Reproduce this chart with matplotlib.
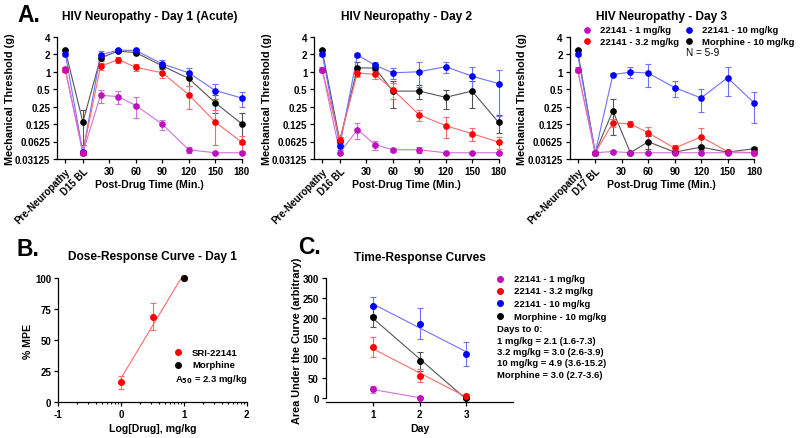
import numpy as np
import matplotlib
matplotlib.use('Agg')
import matplotlib.pyplot as plt
from matplotlib.ticker import FixedLocator, NullLocator

plt.rcParams['font.family'] = ['Liberation Sans', 'DejaVu Sans']
plt.rcParams['font.weight'] = 'bold'
plt.rcParams['axes.unicode_minus'] = False

# ---- panel A data (von Frey threshold, g) ----
time_pts = [-20, 0, 20, 40, 60, 90, 120, 150, 180]
a_ticks = [-20, 0, 30, 60, 90, 120, 150, 180]
y_ticks = [0.03125, 0.0625, 0.125, 0.25, 0.5, 1, 2, 4]
y_ticklabels = ['0.03125', '0.0625', '0.125', '0.25', '0.5', '1', '2', '4']
bl_labels = ['D15 BL', 'D16 BL', 'D17 BL']
a_titles = ['HIV Neuropathy - Day 1 (Acute)', 'HIV Neuropathy - Day 2', 'HIV Neuropathy - Day 3']

d1_mag = [1.10, 0.040, 0.39, 0.37, 0.26, 0.124, 0.045, 0.040, 0.040]
d1_mag_err = [0.10, 0.003, 0.10, 0.09, 0.10, 0.025, 0.006, 0.002, 0.002]
d1_red = [1.08, 0.040, 1.23, 1.60, 1.18, 0.95, 0.40, 0.135, 0.061]
d1_red_err = [0.10, 0.003, 0.15, 0.20, 0.15, 0.18, 0.17, 0.08, 0.018]
d1_blu = [2.04, 0.041, 1.93, 2.33, 2.30, 1.35, 0.95, 0.47, 0.35]
d1_blu_err = [0.20, 0.003, 0.30, 0.10, 0.15, 0.25, 0.20, 0.14, 0.10]
d1_blk = [2.33, 0.135, 1.71, 2.25, 2.11, 1.25, 0.76, 0.29, 0.126]
d1_blk_err = [0.10, 0.08, 0.20, 0.10, 0.10, 0.15, 0.20, 0.10, 0.07]

d2_mag = [1.08, 0.040, 0.10, 0.055, 0.045, 0.045, 0.040, 0.040, 0.040]
d2_mag_err = [0.10, 0.002, 0.03, 0.01, 0.003, 0.005, 0.002, 0.002, 0.002]
d2_red = [1.08, 0.066, 0.95, 0.89, 0.49, 0.18, 0.117, 0.085, 0.061]
d2_red_err = [0.10, 0.01, 0.15, 0.15, 0.15, 0.04, 0.045, 0.02, 0.015]
d2_blu = [2.04, 0.052, 1.93, 1.28, 0.95, 0.99, 1.21, 0.83, 0.62]
d2_blu_err = [0.20, 0.008, 0.15, 0.20, 0.20, 0.45, 0.25, 0.35, 0.45]
d2_blk = [2.33, 0.065, 1.15, 1.15, 0.46, 0.46, 0.36, 0.46, 0.133]
d2_blk_err = [0.10, 0.01, 0.30, 0.20, 0.22, 0.13, 0.13, 0.22, 0.045]

d3_mag = [1.08, 0.040, 0.042, 0.040, 0.040, 0.040, 0.040, 0.040, 0.040]
d3_mag_err = [0.10, 0.002, 0.002, 0.002, 0.002, 0.002, 0.002, 0.002, 0.002]
d3_red = [1.08, 0.040, 0.13, 0.126, 0.088, 0.048, 0.075, 0.042, 0.040]
d3_red_err = [0.10, 0.002, 0.02, 0.015, 0.025, 0.007, 0.03, 0.002, 0.002]
d3_blu = [2.04, 0.040, 0.88, 0.98, 0.94, 0.53, 0.35, 0.78, 0.29]
d3_blu_err = [0.20, 0.002, 0.05, 0.22, 0.40, 0.17, 0.15, 0.40, 0.16]
d3_blk = [2.33, 0.040, 0.21, 0.040, 0.062, 0.041, 0.050, 0.041, 0.047]
d3_blk_err = [0.10, 0.002, 0.13, 0.002, 0.015, 0.002, 0.005, 0.002, 0.004]

# ---- panel B data ----
b_dose = [1, 3.2, 10]          # mg/kg, SRI-22141
b_mpe = [16, 69, 100]
b_mpe_err = [5, 11, 0]
b_morph_dose = [10]
b_morph_mpe = [100]

# ---- panel C data ----
c_days = [1, 2, 3]
c_mag = [22.5, 2]
c_mag_err = [8, 1]
c_red = [128, 57, 7]
c_red_err = [25, 16, 3]
c_blu = [231, 187, 111]
c_blu_err = [22, 38, 30]
c_blk = [204, 93, 1]
c_blk_err = [25, 24, 2]
c_days_text = ['Days to 0:', '1 mg/kg = 2.1 (1.6-7.3)', '3.2 mg/kg = 3.0 (2.6-3.9)',
               '10 mg/kg = 4.9 (3.6-15.2)', 'Morphine = 3.0 (2.7-3.6)']

series_names = ['22141 - 1 mg/kg', '22141 - 3.2 mg/kg', '22141 - 10 mg/kg', 'Morphine - 10 mg/kg']
mk_col = {'mag': '#c010c0', 'red': '#ff0000', 'blu': '#0000ff', 'blk': '#000000'}
ln_col = {'mag': '#d070d8', 'red': '#ff6a6a', 'blu': '#7070ff', 'blk': '#555555'}

W, H = 800, 439
TITLE_FS = 8.6
LABEL_FS = 7.6
LEG_FS = 6.8
fig = plt.figure(figsize=(8, 4.39), dpi=100)


def px(l, t, r, b):
    return [l / W, 1 - b / H, (r - l) / W, (b - t) / H]


def style(ax):
    for s in ['top', 'right']:
        ax.spines[s].set_visible(False)
    for s in ['left', 'bottom']:
        ax.spines[s].set_linewidth(0.9)
    ax.tick_params(width=0.9, length=3, labelsize=7, pad=2)
    for lab in ax.get_xticklabels() + ax.get_yticklabels():
        lab.set_fontweight('bold')


def labels(ax, box, xlab, ylab, title, xlab_y, ylab_x, title_y, ylab_fs=LABEL_FS):
    l, t, r, b = box
    w, h = r - l, b - t
    ax.set_xlabel(xlab, fontsize=LABEL_FS, fontweight='bold')
    ax.xaxis.set_label_coords(0.5, -(xlab_y - b) / h)
    ax.xaxis.label.set_va('center')
    ax.set_ylabel(ylab, fontsize=ylab_fs, fontweight='bold')
    ax.yaxis.set_label_coords(-(l - ylab_x) / w, 0.5)
    ax.yaxis.label.set_va('center')
    ax.text(0.5, 1 + (t - title_y) / h, title, transform=ax.transAxes, ha='center',
            va='center', fontsize=TITLE_FS, fontweight='bold')


def series(ax, x, y, e, key, ms=3.8):
    ax.errorbar(x, y, yerr=e, color=ln_col[key], lw=0.8, elinewidth=0.8,
                capsize=2, capthick=0.8, zorder=2, clip_on=False)
    ax.plot(x, y, 'o', color=mk_col[key], ms=ms, zorder=3, clip_on=False)


a_data = [
    [(d1_blk, d1_blk_err, 'blk'), (d1_blu, d1_blu_err, 'blu'), (d1_red, d1_red_err, 'red'), (d1_mag, d1_mag_err, 'mag')],
    [(d2_blk, d2_blk_err, 'blk'), (d2_blu, d2_blu_err, 'blu'), (d2_red, d2_red_err, 'red'), (d2_mag, d2_mag_err, 'mag')],
    [(d3_blk, d3_blk_err, 'blk'), (d3_blu, d3_blu_err, 'blu'), (d3_red, d3_red_err, 'red'), (d3_mag, d3_mag_err, 'mag')],
]
a_lefts = [57.3, 314.2, 569.6]
for i, left in enumerate(a_lefts):
    box = (left, 37.5, left + 184.4, 160)
    ax = fig.add_axes(px(*box))
    for y, e, key in a_data[i]:
        series(ax, time_pts, y, e, key)
    ax.set_yscale('log', base=2)
    ax.set_ylim(0.03125, 4)
    ax.set_xlim(-29, 180)
    ax.yaxis.set_major_locator(FixedLocator(y_ticks))
    ax.yaxis.set_minor_locator(NullLocator())
    ax.set_yticklabels(y_ticklabels)
    ax.set_xticks(a_ticks)
    ax.set_xticklabels(['Pre-Neuropathy', bl_labels[i], '30', '60', '90', '120', '150', '180'])
    style(ax)
    for lab in ax.get_xticklabels()[:2]:
        lab.set_rotation(45)
        lab.set_ha('right')
        lab.set_rotation_mode('anchor')
    labels(ax, box, 'Post-Drug Time (Min.)', 'Mechanical Threshold (g)', a_titles[i],
           184.5, left - 47.3, 16.5, ylab_fs=7.8)

# ---- panel B ----
box_b = (58.3, 279, 246.7, 403.3)
axb = fig.add_axes(px(*box_b))
xb = np.log10(b_dose)
slope, icpt = np.polyfit(xb, b_mpe, 1)
x_end = (100 - icpt) / slope
axb.plot([0, x_end], [icpt, icpt + slope * x_end], color=ln_col['red'], lw=0.8, zorder=1)
axb.errorbar(xb, b_mpe, yerr=b_mpe_err, fmt='none', ecolor=ln_col['red'], elinewidth=0.8,
             capsize=2, capthick=0.8, zorder=2)
axb.plot(xb, b_mpe, 'o', color=mk_col['red'], ms=4, zorder=3, clip_on=False)
axb.plot(np.log10(b_morph_dose), b_morph_mpe, 'o', color='black', ms=4, zorder=4, clip_on=False)
axb.set_xlim(-1, 2)
axb.set_ylim(0, 100)
axb.set_xticks([-1, 0, 1, 2])
minor = [d + np.log10(k) for d in [-1, 0, 1] for k in range(2, 10)]
axb.xaxis.set_minor_locator(FixedLocator(minor))
axb.set_yticks([0, 25, 50, 75, 100])
style(axb)
axb.tick_params(axis='x', which='minor', length=1.5, width=0.8)
labels(axb, box_b, 'Log[Drug], mg/kg', '% MPE', 'Dose-Response Curve - Day 1',
       429.3, 28, 257.3)

# ---- panel C ----
box_c = (325.7, 279.3, 513.3, 402.7)
axc = fig.add_axes(px(*box_c))
c_sets = [(c_blu, c_blu_err, 'blu'), (c_blk, c_blk_err, 'blk'), (c_red, c_red_err, 'red'), (c_mag, c_mag_err, 'mag')]
for y, e, key in c_sets:
    d = c_days[:len(y)]
    m, b0 = np.polyfit(d, y, 1)
    axc.plot([d[0], d[-1]], [b0 + m * d[0], b0 + m * d[-1]], color=ln_col[key], lw=0.8, zorder=1)
    axc.errorbar(d, y, yerr=e, fmt='none', ecolor=ln_col[key], elinewidth=0.8,
                 capsize=2, capthick=0.8, zorder=2)
    axc.plot(d, y, 'o', color=mk_col[key], ms=4, zorder=3)
axc.set_xlim(0, 4)
axc.set_ylim(-8, 300)
axc.set_xticks([1, 2, 3])
axc.set_yticks([0, 50, 100, 150, 200, 250, 300])
style(axc)
axc.spines['left'].set_bounds(0, 300)
labels(axc, box_c, 'Day', 'Area Under the Curve (arbitrary)', 'Time-Response Curves',
       429.3, 296.7, 258.3, ylab_fs=7.8)

# ---- annotation layer in pixel coordinates ----
ov = fig.add_axes([0, 0, 1, 1])
ov.set_xlim(0, W)
ov.set_ylim(H, 0)
ov.axis('off')

for lbl, x, y in [('A.', 17, 16), ('B.', 16, 250), ('C.', 298, 248)]:
    ov.text(x, y, lbl, fontsize=16.5, fontweight='bold', va='center', ha='left')

# legend of panel A (day 3)
leg_a = [('mag', 587, 30.7), ('red', 587, 42.3), ('blu', 689, 30.7), ('blk', 689, 42.3)]
for (key, x, y), name in zip(leg_a, series_names):
    ov.plot(x, y, 'o', color=mk_col[key], ms=3.8)
    ov.text(x + 13.5, y, name, fontsize=LEG_FS, fontweight='bold', va='center')
ov.text(685.5, 52.5, 'N = 5-9', fontsize=7.2, fontweight='normal', va='center')

# legend of panel B
ov.plot(178.3, 353.3, 'o', color=mk_col['red'], ms=4)
ov.text(192, 353.3, 'SRI-22141', fontsize=LEG_FS, fontweight='bold', va='center')
ov.plot(178.3, 366, 'o', color='black', ms=4)
ov.text(192, 366, 'Morphine', fontsize=LEG_FS, fontweight='bold', va='center')
ov.text(175, 379.3, 'A$_{\\mathbf{50}}$ = 2.3 mg/kg', fontsize=LEG_FS, fontweight='bold', va='center')

# legend of panel C
for key, y, name in zip(['mag', 'red', 'blu', 'blk'], [280, 291.7, 304.3, 317.3], series_names):
    ov.plot(500, y, 'o', color=mk_col[key], ms=4)
    ov.text(514.5, y, name, fontsize=LEG_FS, fontweight='bold', va='center')
for j, line in enumerate(c_days_text):
    ov.text(497.3, 330 + j * 11.3, line, fontsize=LEG_FS, fontweight='bold', va='center')

fig.savefig('out.png', dpi=100)
